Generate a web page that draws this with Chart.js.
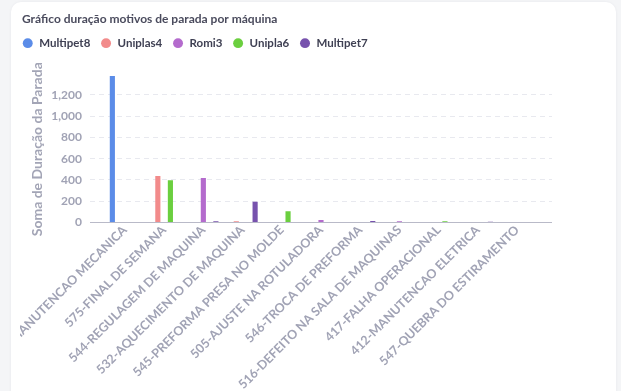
<!DOCTYPE html>
<html lang="pt-BR">
<head>
<meta charset="utf-8">
<title>Gráfico duração motivos de parada por máquina</title>
<script src="https://cdn.jsdelivr.net/npm/chart.js@4.4.1/dist/chart.umd.min.js"></script>
<style>
    html, body {
        margin: 0;
        padding: 0;
        width: 621px;
        height: 391px;
        overflow: hidden;
        background: #f4f5f7;
        font-family: Lato, sans-serif;
    }
    .card {
        position: absolute;
        left: 11px;
        top: 2px;
        width: 605px;
        height: 430px;
        background: #fff;
        border-radius: 10px;
        box-shadow: 0 0 3px rgba(40, 40, 70, 0.06);
    }
    .chart-box {
        position: absolute;
        left: 9px;
        top: 0;
        width: 532px;
        height: 390px;
    }
</style>
</head>
<body>
<div class="card">
    <div class="chart-box"><canvas id="paradaChart"></canvas></div>
</div>
<script>
// motivos de parada (eixo x)
const motivos = [
    '411-MANUTENCAO MECANICA',
    '575-FINAL DE SEMANA',
    '544-REGULAGEM DE MAQUINA',
    '532-AQUECIMENTO DE MAQUINA',
    '545-PREFORMA PRESA NO MOLDE',
    '505-AJUSTE NA ROTULADORA',
    '546-TROCA DE PREFORMA',
    '516-DEFEITO NA SALA DE MAQUINAS',
    '417-FALHA OPERACIONAL',
    '412-MANUTENCAO ELETRICA',
    '547-QUEBRA DO ESTIRAMENTO'
];

// soma da duração por máquina, na ordem dos motivos
const multipet8 = [1377, 0, 0, 0, 0, 0, 0, 0, 0, 0, 0];
const uniplas4  = [0, 437, 0, 12, 0, 0, 0, 0, 0, 0, 0];
const romi3     = [0, 0, 418, 0, 0, 24, 0, 12, 0, 0, 0];
const unipla6   = [0, 398, 0, 5, 107, 5, 0, 0, 14, 0, 5];
const multipet7 = [0, 0, 14, 195, 0, 0, 15, 0, 6, 8, 0];

const Y_STEP = 200;
const CATEGORY_GUTTER = 0.39;

const labelGray = '#a1a3b5';

// category axis with a little empty room at both ends, like the original
class PaddedCategoryScale extends Chart.CategoryScale {
    buildTicks() {
        const ticks = super.buildTicks();
        this._startValue -= CATEGORY_GUTTER;
        this._valueRange += CATEGORY_GUTTER * 2;
        return ticks;
    }
}
PaddedCategoryScale.id = 'paddedCategory';
PaddedCategoryScale.defaults = Chart.CategoryScale.defaults;
Chart.register(PaddedCategoryScale);

// legend flush with the title, plus some room below it
const legendSpacing = {
    id: 'legendSpacing',
    beforeInit(chart) {
        const fit = chart.legend.fit;
        chart.legend.fit = function () {
            fit.call(this);
            this.height += 17;
        };
    },
    afterLayout(chart) {
        chart.legend.left -= chart.legend.options.labels.padding;
    }
};

Chart.defaults.font.family = 'Lato, sans-serif';

const series = [
    { label: 'Multipet8', data: multipet8, color: '#5b8ce8' },
    { label: 'Uniplas4', data: uniplas4, color: '#f28b8b' },
    { label: 'Romi3', data: romi3, color: '#b46bcd' },
    { label: 'Unipla6', data: unipla6, color: '#6bcf3f' },
    { label: 'Multipet7', data: multipet7, color: '#7752ad' }
];

const ctx = document.getElementById('paradaChart').getContext('2d');

new Chart(ctx, {
    type: 'bar',
    data: {
        labels: motivos,
        datasets: series.map(s => ({
            label: s.label,
            data: s.data,
            backgroundColor: s.color,
            borderWidth: 0,
            categoryPercentage: 0.8,
            barPercentage: 0.82
        }))
    },
    options: {
        responsive: true,
        maintainAspectRatio: false,
        animation: false,
        locale: 'en-US',
        layout: {
            padding: { left: 2, right: 0, top: 0, bottom: 0 }
        },
        plugins: {
            title: {
                display: true,
                text: 'Gráfico duração motivos de parada por máquina',
                align: 'start',
                color: '#4a4b5d',
                font: { size: 12, weight: 'bold' },
                padding: { top: 10, bottom: 1 }
            },
            legend: {
                position: 'top',
                align: 'start',
                labels: {
                    usePointStyle: true,
                    pointStyle: 'circle',
                    boxHeight: 7,
                    padding: 10,
                    color: '#3f4053',
                    font: { size: 11.5, weight: 'bold' }
                }
            },
            tooltip: { enabled: false }
        },
        scales: {
            x: {
                type: 'paddedCategory',
                grid: { display: false, drawTicks: false },
                border: { display: true, color: '#b9bac8' },
                ticks: {
                    autoSkip: false,
                    minRotation: 45,
                    maxRotation: 45,
                    padding: 0,
                    color: labelGray,
                    font: { size: 12.5, weight: 'bold' }
                },
                afterFit: scale => {
                    scale.paddingLeft = 0;
                    scale.paddingRight = 0;
                }
            },
            y: {
                bounds: 'data',
                beginAtZero: true,
                afterBuildTicks: scale => {
                    scale.ticks = scale.ticks.filter(t => t.value % Y_STEP === 0);
                },
                afterFit: scale => {
                    scale.width = 68;
                },
                ticks: {
                    stepSize: Y_STEP,
                    padding: 8,
                    color: labelGray,
                    font: { size: 12, weight: 'bold' }
                },
                grid: {
                    drawTicks: false,
                    color: c => (c.tick && c.tick.value === 0) ? 'rgba(0,0,0,0)' : '#e8e9ef'
                },
                border: { display: false, dash: [5, 4] },
                title: {
                    display: true,
                    text: 'Soma de Duração da Parada',
                    color: '#a3a5b6',
                    font: { size: 14, weight: 'bold' },
                    padding: { top: 7, bottom: 6 }
                }
            }
        }
    },
    plugins: [legendSpacing]
});
</script>
</body>
</html>
